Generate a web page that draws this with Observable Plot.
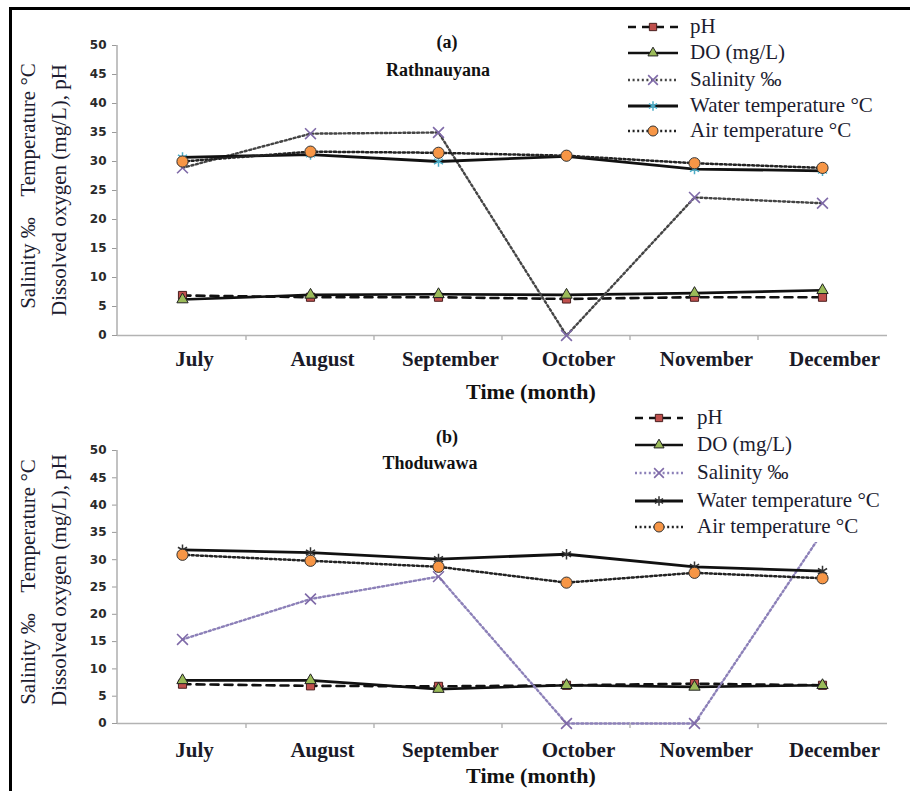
<!DOCTYPE html>
<html><head><meta charset="utf-8">
<script src="https://cdn.jsdelivr.net/npm/d3@7"></script>
<script src="https://cdn.jsdelivr.net/npm/@observablehq/plot@0.6"></script>
<style>
body{margin:0;background:#fff;}
#wrap{position:relative;width:910px;height:791px;overflow:hidden;background:#fff;}
.panel{position:absolute;left:0;}
#overlay{position:absolute;left:0;top:0;pointer-events:none;}
</style></head><body>
<div id="wrap">
<div id="pa" class="panel" style="top:0px"></div>
<div id="pb" class="panel" style="top:395px"></div>
<svg id="overlay" width="910" height="791"></svg>
</div>
<script>
// ---------- data ----------
const months = ["July","August","September","October","November","December"];
const yTicks = [0,5,10,15,20,25,30,35,40,45,50];
const seriesNames = ["pH","DO (mg/L)","Salinity \u2030","Water temperature \u00B0C","Air temperature \u00B0C"];
const seriesKeys = ["ph","do","sal","water","air"];

// (a) Rathnauyana
const phA    = [6.9, 6.6, 6.6, 6.3, 6.6, 6.6];
const doA    = [6.2, 7.0, 7.1, 7.0, 7.3, 7.8];
const salA   = [28.9, 34.8, 35.0, 0, 23.8, 22.8];
const waterA = [30.7, 31.2, 30.0, 30.9, 28.7, 28.4];
const airA   = [30.0, 31.7, 31.5, 31.0, 29.7, 28.9];

// (b) Thoduwawa
const phB    = [7.2, 6.9, 6.8, 7.0, 7.3, 7.0];
const doB    = [7.9, 7.9, 6.3, 7.0, 6.7, 7.0];
const salB   = [15.4, 22.8, 26.9, 0, 0, 35.0];
const waterB = [31.8, 31.3, 30.1, 31.0, 28.7, 27.9];
const airB   = [30.9, 29.8, 28.7, 25.8, 27.6, 26.6];

const panelTags = ["(a)","(b)"];
const siteNames = ["Rathnauyana","Thoduwawa"];
const yTitle1 = "Salinity \u2030    Temperature \u00B0C";
const yTitle2 = "Dissolved oxygen (mg/L), pH";
const xTitle = "Time (month)";

// ---------- styles ----------
function seriesStyle(key, panel){
  const s = {
    ph:   {line:{stroke:"#111", strokeWidth:2.6, strokeDasharray:"8,6"},
           dot:{symbol:"square", r:4.6, fill:"#c0504d", stroke:"#4a1f1f", strokeWidth:1}},
    do:   {line:{stroke:"#111", strokeWidth:2.6},
           dot:{symbol:"triangle", r:4.2, fill:"#9bbb59", stroke:"#222", strokeWidth:1}},
    sal:  {line:{stroke: panel===0 ? "#444" : "#8c80b8", strokeWidth:2.4, strokeDasharray:"2,2.6"},
           dot:{symbol:"times", r:5, fill:"none", stroke:"#7f6aa8", strokeWidth:1.6}},
    water:{line:{stroke:"#111", strokeWidth:2.8},
           dot:{symbol:"asterisk", r:5, fill:"none", stroke: panel===0 ? "#4bacc6" : "#333", strokeWidth:1.5}},
    air:  {line:{stroke:"#222", strokeWidth:2.5, strokeDasharray:"2,2.6"},
           dot:{symbol:"circle", r:5.6, fill:"#f79646", stroke:"#333", strokeWidth:1}}
  };
  return s[key];
}

function rows(vals){ return months.map((m,i)=>({month:m, value:vals[i]})); }

function makePanel(el, values, panel, o){
  const marks = [
    Plot.ruleY([0], {stroke:"#b3b3b3", strokeWidth:1.6}),
    Plot.axisY(yTicks, {tickSize:5, tickPadding:6, fontSize:12, fontWeight:"bold",
      fontFamily:"DejaVu Sans", stroke:"#9a9a9a", fill:"#2a2a2a", label:null}),
    Plot.axisX({tickSize:0, tickPadding:o.tp, dx:12, fontSize:21, fontWeight:"bold",
      fontFamily:"Liberation Serif", fill:"#1a1a28", label:null})
  ];
  seriesKeys.forEach((k,i)=>{
    const st = seriesStyle(k, panel);
    const d = rows(values[i]);
    marks.push(Plot.line(d, {x:"month", y:"value", ...st.line}));
    marks.push(Plot.dot(d, {x:"month", y:"value", ...st.dot}));
  });
  const chart = Plot.plot({
    width:910, height:o.height, marginLeft:117, marginRight:23,
    marginTop:o.mt, marginBottom:o.mb,
    style:{background:"transparent", color:"#222", overflow:"visible"},
    x:{type:"point", domain:months, padding:0.5},
    y:{domain:[0,50]},
    marks
  });
  // axis line (left) and category boundary ticks, from the plot's scales
  const xs = chart.scale("x"), ys = chart.scale("y");
  const svg = d3.select(chart);
  const x0 = xs.range[0], y0 = ys.apply(0), y50 = ys.apply(50);
  svg.append("line").attr("x1",x0).attr("x2",x0).attr("y1",y50).attr("y2",y0)
     .attr("stroke","#b3b3b3").attr("stroke-width",1.6);
  for(let i=1;i<months.length;i++){
    const xb = (xs.apply(months[i-1]) + xs.apply(months[i]))/2;
    svg.append("line").attr("x1",xb).attr("x2",xb).attr("y1",y0).attr("y2",y0+5)
       .attr("stroke","#b3b3b3").attr("stroke-width",1.4);
  }
  el.appendChild(chart);
}

makePanel(document.getElementById("pa"), [phA,doA,salA,waterA,airA], 0, {height:395, mt:45, mb:60, tp:16});
makePanel(document.getElementById("pb"), [phB,doB,salB,waterB,airB], 1, {height:396, mt:55, mb:68, tp:19});

// ---------- overlay: frame, titles, axis titles, legends ----------
const ov = d3.select("#overlay");
const serif = "Liberation Serif";
const txtColor = "#1c1c30";

ov.append("line").attr("x1",9).attr("x2",910).attr("y1",8.5).attr("y2",8.5).attr("stroke","#000").attr("stroke-width",3);
ov.append("line").attr("x1",10.5).attr("x2",10.5).attr("y1",7).attr("y2",791).attr("stroke","#000").attr("stroke-width",3);

function addText(x,y,t,opt={}){
  return ov.append("text").attr("x",x).attr("y",y).text(t)
    .attr("font-family",serif).attr("font-size",opt.size||21)
    .attr("font-weight",opt.weight||"normal").attr("fill",opt.fill||txtColor)
    .attr("text-anchor",opt.anchor||"start").style("white-space","pre")
    .attr("transform",opt.transform||null);
}

const layout = [
  {tag:[447,48], site:[438,76], xt:[531,399], y1:[35,186], y2:[66,190],
   leg:{sx0:628, sx1:678, tx:690, rows:[27,53,80,106,131], box:null}},
  {tag:[447,443], site:[430,469], xt:[531,783], y1:[35,582], y2:[66,580],
   leg:{sx0:635, sx1:683, tx:697, rows:[418,445,473,501,527], box:[612,400,290,142]}}
];

layout.forEach((L,p)=>{
  addText(L.tag[0], L.tag[1], panelTags[p], {size:18, weight:"bold", anchor:"middle", fill:"#111"});
  addText(L.site[0], L.site[1], siteNames[p], {size:18, weight:"bold", anchor:"middle", fill:"#111"});
  addText(L.xt[0], L.xt[1], xTitle, {size:22, weight:"bold", anchor:"middle", fill:"#111"});
  addText(0,0,yTitle1,{size:21, anchor:"middle", transform:`translate(${L.y1[0]},${L.y1[1]}) rotate(-90)`});
  addText(0,0,yTitle2,{size:21, anchor:"middle", transform:`translate(${L.y2[0]},${L.y2[1]}) rotate(-90)`});
  const lg = L.leg;
  if(lg.box){
    ov.append("rect").attr("x",lg.box[0]).attr("y",lg.box[1]).attr("width",lg.box[2]).attr("height",lg.box[3]).attr("fill","#fff");
  }
  seriesKeys.forEach((k,i)=>{
    const st = seriesStyle(k,p);
    const cy = lg.rows[i];
    const ln = ov.append("line").attr("x1",lg.sx0).attr("x2",lg.sx1).attr("y1",cy).attr("y2",cy)
      .attr("stroke",st.line.stroke).attr("stroke-width",st.line.strokeWidth);
    if(st.line.strokeDasharray) ln.attr("stroke-dasharray",st.line.strokeDasharray);
    const sym = {square:d3.symbolSquare, triangle:d3.symbolTriangle, times:d3.symbolTimes,
                 asterisk:d3.symbolAsterisk, circle:d3.symbolCircle}[st.dot.symbol];
    const size = Math.PI*st.dot.r*st.dot.r*0.8;
    ov.append("path").attr("d",d3.symbol(sym,size)())
      .attr("transform",`translate(${(lg.sx0+lg.sx1)/2},${cy})`)
      .attr("fill",st.dot.fill).attr("stroke",st.dot.stroke).attr("stroke-width",st.dot.strokeWidth);
    addText(lg.tx, cy+6, seriesNames[i], {size:21});
  });
});
</script>
</body></html>
